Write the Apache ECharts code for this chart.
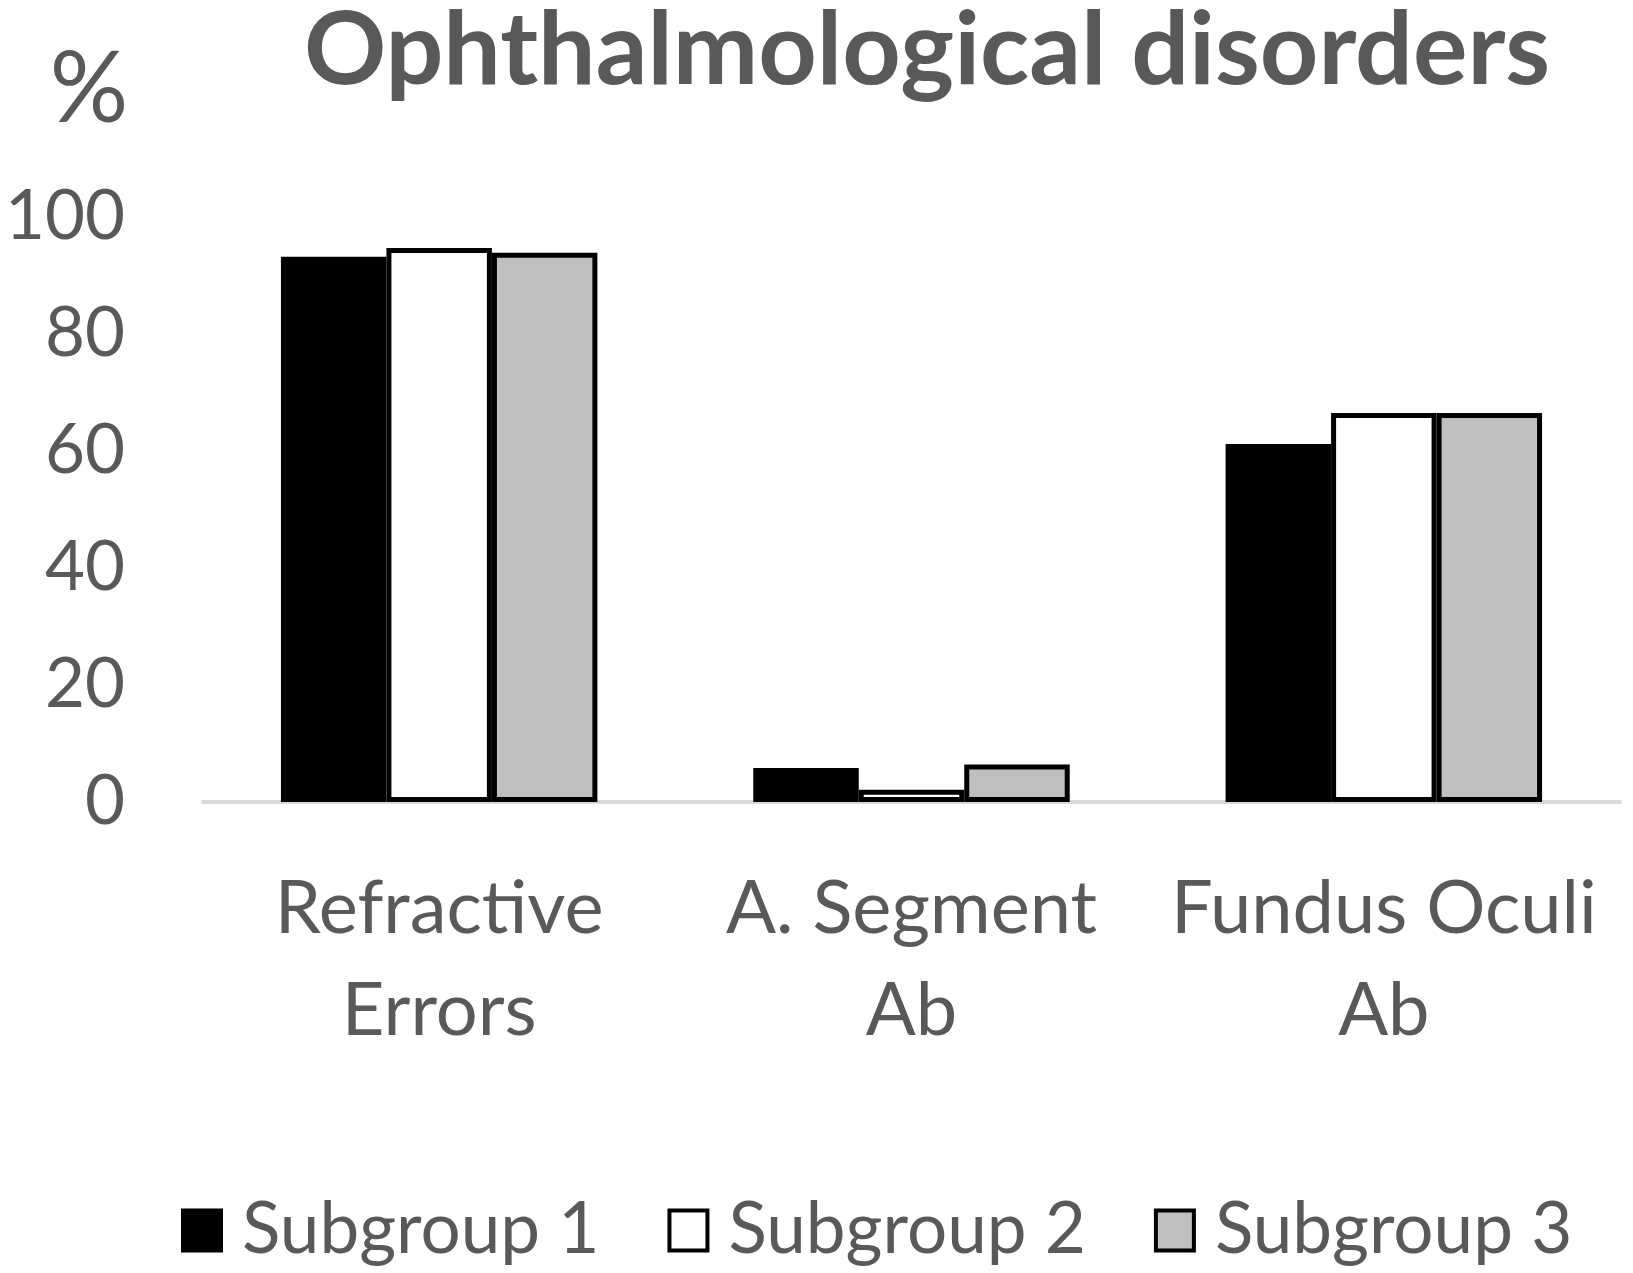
<!DOCTYPE html>
<html>
<head>
<meta charset="utf-8">
<script src="https://cdn.jsdelivr.net/npm/echarts@6/dist/echarts.min.js"></script>
<style>
html, body { margin: 0; padding: 0; background: #fff; }
#chart { width: 1633px; height: 1273px; }
</style>
</head>
<body>
<div id="chart"></div>
<script>
var categories = ['Refractive\nErrors', 'A. Segment\nAb', 'Fundus Oculi\nAb'];
var seriesNames = ['Subgroup 1', 'Subgroup 2', 'Subgroup 3'];
var subgroup1 = [93.2, 5.8, 61.2];
var subgroup2 = [94.7, 2.1, 66.5];
var subgroup3 = [93.9, 6.4, 66.5];
var yTicks = [0, 20, 40, 60, 80, 100];

var textColor = '#595959';
var fontName = 'Lato';

function drawChart() {
    var myChart = echarts.init(document.getElementById('chart'));
    myChart.setOption({
        animation: false,
        backgroundColor: '#fff',
        title: [
            {
                text: 'Ophthalmological disorders',
                left: 922,
                textAlign: 'center',
                top: -5,
                textStyle: {
                    fontFamily: fontName,
                    fontWeight: 'bold',
                    fontSize: 102,
                    color: textColor
                }
            },
            {
                text: '%',
                left: 84,
                textAlign: 'center',
                top: 36,
                textStyle: {
                    fontFamily: fontName,
                    fontWeight: 'normal',
                    fontSize: 98,
                    color: textColor
                }
            }
        ],
        legend: {
            left: 176,
            top: 1190,
            icon: 'rect',
            itemWidth: 38,
            itemHeight: 40,
            itemGap: 68,
            itemStyle: { borderWidth: 4 },
            textStyle: {
                fontFamily: fontName,
                fontSize: 71,
                color: textColor,
                padding: [0, 0, 0, 16]
            },
            data: seriesNames
        },
        grid: {
            left: 203,
            right: 13,
            top: 217,
            bottom: 471
        },
        xAxis: {
            type: 'category',
            data: categories,
            axisLine: { show: true, lineStyle: { color: '#d9d9d9', width: 4 } },
            axisTick: { show: false },
            axisLabel: {
                margin: 56,
                fontFamily: fontName,
                fontSize: 74,
                lineHeight: 102,
                color: textColor,
                interval: 0
            }
        },
        yAxis: {
            type: 'value',
            min: yTicks[0],
            max: yTicks[yTicks.length - 1],
            interval: 20,
            axisLine: { show: false },
            axisTick: { show: false },
            splitLine: { show: false },
            axisLabel: {
                margin: 78,
                fontFamily: fontName,
                fontSize: 69,
                color: textColor
            }
        },
        series: [
            {
                name: seriesNames[0],
                type: 'bar',
                barGap: 0,
                barCategoryGap: '33%',
                itemStyle: { color: '#000', borderColor: '#000', borderWidth: 0 },
                data: subgroup1
            },
            {
                name: seriesNames[1],
                type: 'bar',
                barGap: 0,
                barCategoryGap: '33%',
                itemStyle: { color: '#fff', borderColor: '#000', borderWidth: 5 },
                data: subgroup2
            },
            {
                name: seriesNames[2],
                type: 'bar',
                barGap: 0,
                barCategoryGap: '33%',
                itemStyle: { color: '#bfbfbf', borderColor: '#000', borderWidth: 5 },
                data: subgroup3
            }
        ]
    });
}
drawChart();
</script>
</body>
</html>
